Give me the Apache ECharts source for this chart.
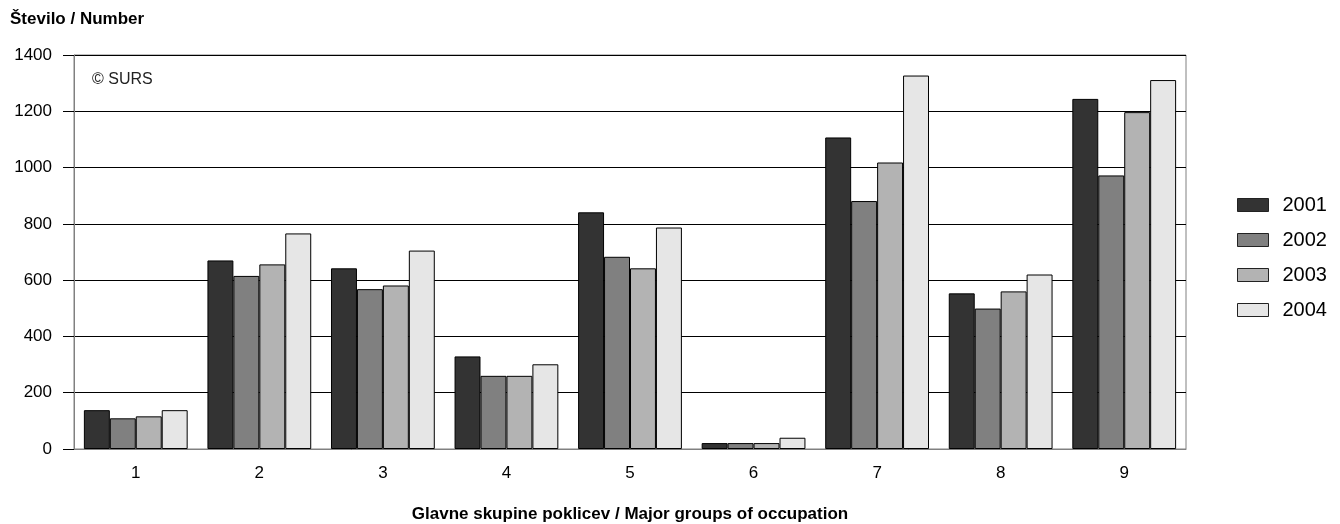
<!DOCTYPE html>
<html>
<head>
<meta charset="utf-8">
<script src="https://cdn.jsdelivr.net/npm/echarts@6/dist/echarts.min.js"></script>
<style>
html,body{margin:0;padding:0;background:#fff;}
#chart{width:1340px;height:524px;}
</style>
</head>
<body>
<div id="chart"></div>
<script>
const categories = ['1','2','3','4','5','6','7','8','9'];
const seriesNames = ['2001','2002','2003','2004'];
const v2001 = [138, 670, 642, 329, 841, 21, 1107, 553, 1244];
const v2002 = [109, 615, 568, 260, 683, 21, 881, 499, 972];
const v2003 = [116, 656, 581, 260, 642, 21, 1018, 560, 1197];
const v2004 = [138, 766, 705, 301, 787, 40, 1327, 620, 1311];
const yTicks = {min: 0, max: 1400, interval: 200};
const colors = ['#333333', '#808080', '#b3b3b3', '#e6e6e6'];
const values = [v2001, v2002, v2003, v2004];

const FONT = 'Liberation Sans, Arial, sans-serif';
const chart = echarts.init(document.getElementById('chart'), null, {renderer: 'canvas'});
chart.setOption({
  animation: false,
  backgroundColor: '#ffffff',
  textStyle: {fontFamily: FONT},
  title: {
    text: 'Število / Number',
    left: 5, top: 6,
    textStyle: {fontSize: 17, fontWeight: 'bold', color: '#000', fontFamily: FONT}
  },
  graphic: [{
    type: 'text', left: 92, top: 72,
    style: {text: '© SURS', fontSize: 16, fill: '#222', fontFamily: FONT}
  }],
  legend: {
    orient: 'vertical',
    left: 1232, top: 190,
    icon: 'rect',
    itemWidth: 31, itemHeight: 13,
    itemGap: 15,
    data: seriesNames,
    textStyle: {fontSize: 20, color: '#000', fontFamily: FONT, padding: [0,0,0,9]},
    itemStyle: {borderColor: '#222', borderWidth: 1}
  },
  grid: {
    left: 74, right: 154, top: 55, bottom: 75,
    show: true, borderColor: '#808080', borderWidth: 1,
    containLabel: false,
    outerBoundsMode: 'none'
  },
  xAxis: {
    type: 'category',
    data: categories,
    name: 'Glavne skupine poklicev / Major groups of occupation',
    nameLocation: 'middle',
    nameGap: 57,
    nameTextStyle: {fontSize: 17, fontWeight: 'bold', color: '#000', fontFamily: FONT},
    axisLine: {show: true, lineStyle: {color: '#808080', width: 1}},
    axisTick: {show: false},
    axisLabel: {fontSize: 17, color: '#000', margin: 16, fontFamily: FONT}
  },
  yAxis: {
    type: 'value',
    min: yTicks.min, max: yTicks.max, interval: yTicks.interval,
    axisLine: {show: true, lineStyle: {color: '#808080', width: 1}},
    axisTick: {show: true, length: 11, lineStyle: {color: '#000'}},
    axisLabel: {fontSize: 17, color: '#000', margin: 22, fontFamily: FONT,
      formatter: function (v) { return String(v); }},
    splitLine: {show: true, lineStyle: {color: '#000', width: 1}}
  },
  series: seriesNames.map((name, i) => ({
    name: name,
    type: 'bar',
    data: values[i],
    barGap: '0%',
    barCategoryGap: '16%',
    itemStyle: {color: colors[i], borderColor: '#000', borderWidth: 1}
  }))
});
</script>
</body>
</html>
